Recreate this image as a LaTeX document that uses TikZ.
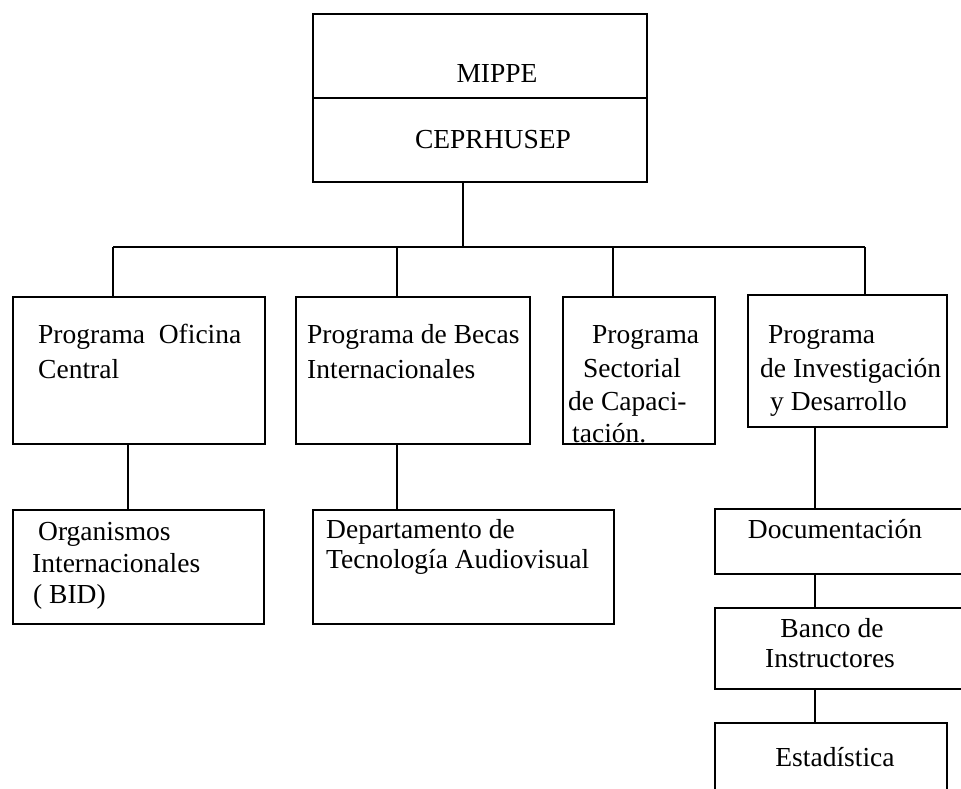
\documentclass[tikz,border=0pt]{standalone}
\usepackage{fontspec}
\setmainfont{Liberation Serif}
\usetikzlibrary{calc}
\begin{document}
\begin{tikzpicture}[x=1pt,y=-1pt,
  box/.style={draw, line width=1.6pt, inner sep=0pt, outer sep=0pt},
  conn/.style={line width=1.6pt},
  lbl/.style={anchor=base west, inner sep=0pt, font=\fontsize{27.5}{33}\selectfont},
  clbl/.style={anchor=base, inner sep=0pt, font=\fontsize{27.5}{33}\selectfont}]
\clip (0,0) rectangle (961,788);
\fill[white] (0,0) rectangle (961,788);
% boxes
\node[box, minimum width=334pt, minimum height=84pt] (mippe) at (480,56) {};
\node[box, minimum width=334pt, minimum height=84pt] (ceprh) at (480,140) {};
\node[box, minimum width=252pt, minimum height=147pt] (oficina) at (139,370.5) {};
\node[box, minimum width=234pt, minimum height=147pt] (becas) at (413,370.5) {};
\node[box, minimum width=152pt, minimum height=147pt] (sector) at (639,370.5) {};
\node[box, minimum width=199pt, minimum height=132pt] (invest) at (847.5,361) {};
\node[box, minimum width=251pt, minimum height=114pt] (organ) at (138.5,567) {};
\node[box, minimum width=301pt, minimum height=114pt] (depto) at (463.5,567) {};
\node[box, minimum width=265pt, minimum height=65pt] (doc) at (847.5,541.5) {};
\node[box, minimum width=265pt, minimum height=81pt] (banco) at (847.5,648.5) {};
\node[box, minimum width=232pt, minimum height=87pt] (estad) at (831,766.5) {};
% texts
\node[clbl] (t1) at (497,82) {MIPPE};
\node[clbl] (t2) at (493,148) {CEPRHUSEP};
\node[lbl] (t3) at (38,343) {Programa\ \ Oficina};
\node[lbl] (t4) at (38,378) {Central};
\node[lbl] (t5) at (307,343) {Programa de Becas};
\node[lbl] (t6) at (307,378) {Internacionales};
\node[lbl] (t7) at (592,343) {Programa};
\node[lbl] (t8) at (583,377) {Sectorial};
\node[lbl] (t9) at (568,410) {de Capaci-};
\node[lbl] (t10) at (572,442) {tación.};
\node[lbl] (t11) at (768,343) {Programa};
\node[lbl] (t12) at (760,377) {de Investigación};
\node[lbl] (t13) at (770,410) {y Desarrollo};
\node[lbl] (t14) at (38,540) {Organismos};
\node[lbl] (t15) at (32,572) {Internacionales};
\node[lbl] (t16) at (33,603) {( BID)};
\node[lbl] (t17) at (326,538) {Departamento de};
\node[lbl] (t18) at (326,568) {Tecnología Audiovisual};
\node[clbl] (t19) at (835,538) {Documentación};
\node[clbl] (t20) at (832,637) {Banco de};
\node[clbl] (t21) at (830,667) {Instructores};
\node[clbl] (t22) at (835,766) {Estadística};
% connectors
\coordinate (hub) at (463,247);
\coordinate (d1) at (113,247);
\coordinate (d2) at (397,247);
\coordinate (d3) at (613,247);
\coordinate (d4) at (865,247);
\draw[conn] (hub) -- (hub |- ceprh.south);
\draw[conn] (d1) -- (d4);
\draw[conn] (d1) -- (d1 |- oficina.north);
\draw[conn] (d2) -- (d2 |- becas.north);
\draw[conn] (d3) -- (d3 |- sector.north);
\draw[conn] (d4) -- (d4 |- invest.north);
\coordinate (e1) at (128,480);
\coordinate (e2) at (397,480);
\coordinate (e3) at (815,480);
\draw[conn] (e1 |- oficina.south) -- (e1 |- organ.north);
\draw[conn] (e2 |- becas.south) -- (e2 |- depto.north);
\draw[conn] (e3 |- invest.south) -- (e3 |- doc.north);
\draw[conn] (e3 |- doc.south) -- (e3 |- banco.north);
\draw[conn] (e3 |- banco.south) -- (e3 |- estad.north);
\end{tikzpicture}
\end{document}
